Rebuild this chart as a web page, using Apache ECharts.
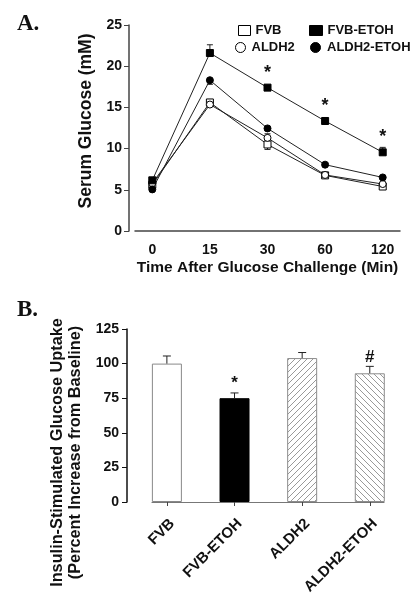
<!DOCTYPE html>
<html><head><meta charset="utf-8">
<script src="https://cdn.jsdelivr.net/npm/echarts@6/dist/echarts.min.js"></script>
<style>html,body{margin:0;padding:0;background:#fff}#c{width:420px;height:607px}</style>
</head><body><div id="c"></div>
<script>
// ---- Panel A data ----
const timeLabels = ['0', '15', '30', '60', '120'];
const fvb = [5.6, 15.6, 10.5, 6.75, 5.4];
const fvbEtoh = [6.15, 21.6, 17.4, 13.35, 9.55];
const aldh2 = [5.8, 15.35, 11.3, 6.8, 5.7];
const aldh2Etoh = [5.05, 18.3, 12.45, 8.05, 6.5];
const fvbErr = [0, 0.3, -0.6, 0, 0];
const fvbEtohErr = [0, 1.0, 0.2, 0.4, 0.6];
const aldh2Err = [0, 0, 0.5, 0, 0];
const aldh2EtohErr = [0, -0.5, 0, 0, 0];
const sigA = ['', '', '*', '*', '*'];
const yTicksA = [0, 5, 10, 15, 20, 25];

// ---- Panel B data ----
const groups = ['FVB', 'FVB-ETOH', 'ALDH2', 'ALDH2-ETOH'];
const uptake = [100, 75, 104, 93];
const uptakeErr = [5.5, 3.8, 4, 5];
const sigB = ['', '*', '', '#'];
const yTicksB = [0, 25, 50, 75, 100, 125];

const FONT = '"Liberation Sans", Arial, sans-serif';
const chart = echarts.init(document.getElementById('c'), null, {renderer: 'canvas'});

function hatch(dir) {
  const s = 6;
  const c = document.createElement('canvas'); c.width = s; c.height = s;
  const g = c.getContext('2d');
  g.fillStyle = '#fff'; g.fillRect(0, 0, s, s);
  g.strokeStyle = '#999'; g.lineWidth = 1;
  g.beginPath();
  if (dir > 0) {
    g.moveTo(-1, s + 1); g.lineTo(s + 1, -1);
    g.moveTo(-1, 1); g.lineTo(1, -1);
    g.moveTo(s - 1, s + 1); g.lineTo(s + 1, s - 1);
  } else {
    g.moveTo(-1, -1); g.lineTo(s + 1, s + 1);
    g.moveTo(-1, s - 1); g.lineTo(1, s + 1);
    g.moveTo(s - 1, -1); g.lineTo(s + 1, 1);
  }
  g.stroke();
  return c;
}

function errSeries(values, errs, sig, axisIdx, capHalf, sigMode) {
  return {
    type: 'custom', xAxisIndex: axisIdx, yAxisIndex: axisIdx, z: 1, clip: false,
    silent: true,
    data: values.map((v, i) => [i, v, errs[i]]),
    encode: {x: 0, y: 1},
    renderItem: function (params, api) {
      const x = api.value(0), v = api.value(1), e = api.value(2);
      const p0 = api.coord([x, v]);
      const p1 = api.coord([x, v + e]);
      const ch = [];
      const st = {stroke: '#222', lineWidth: 1};
      if (e) {
        ch.push({type: 'line', shape: {x1: p0[0], y1: p0[1], x2: p1[0], y2: p1[1]}, style: st});
        ch.push({type: 'line', shape: {x1: p1[0] - capHalf, y1: p1[1], x2: p1[0] + capHalf, y2: p1[1]}, style: st});
      }
      const s = sig[params.dataIndex];
      if (s) {
        let y;
        if (sigMode === 'point') y = p0[1] - 15;
        else y = Math.min(p0[1], p1[1]) - 1;
        ch.push({type: 'text', style: {
          text: s, x: p0[0], y: y, fill: '#111',
          font: 'bold ' + (sigMode === 'point' ? 18 : 17) + 'px ' + FONT,
          align: 'center', verticalAlign: sigMode === 'point' ? 'middle' : 'bottom'
        }});
      }
      return {type: 'group', children: ch};
    }
  };
}

const labelStyle = {fontFamily: FONT, fontWeight: 'bold', fontSize: 14, color: '#111'};

function lineSeries(name, data, symbol, filled) {
  return {
    name: name, type: 'line', xAxisIndex: 0, yAxisIndex: 0, z: 3,
    data: data.map((v, i) => [i, v]),
    symbol: symbol, symbolSize: 7, showSymbol: true,
    lineStyle: {color: '#222', width: 1},
    itemStyle: {color: filled ? '#000' : '#fff', borderColor: '#000', borderWidth: 1},
    emphasis: {disabled: true}
  };
}

const barColors = ['#fff', '#000', {image: hatch(1), repeat: 'repeat'}, {image: hatch(-1), repeat: 'repeat'}];
const barBorders = ['#888', '#000', '#8c8c8c', '#8c8c8c'];

function legendItem(name, icon, filled, left, top, w, h) {
  return {
    left: left, top: top, padding: 0, itemWidth: w, itemHeight: h,
    selectedMode: false,
    textStyle: {fontFamily: FONT, fontWeight: 'bold', fontSize: 13, color: '#111'},
    data: [{name: name, icon: icon, itemStyle: {color: filled ? '#000' : '#fff', borderColor: '#000', borderWidth: 1}}]
  };
}

chart.setOption({
  animation: false,
  backgroundColor: '#fff',
  title: [
    {text: 'A.', left: 17, top: 13, padding: 0, textStyle: {fontFamily: '"Liberation Serif", "Times New Roman", serif', fontWeight: 'bold', fontSize: 23, color: '#111'}},
    {text: 'B.', left: 17, top: 299, padding: 0, textStyle: {fontFamily: '"Liberation Serif", "Times New Roman", serif', fontWeight: 'bold', fontSize: 23, color: '#111'}}
  ],
  legend: [
    legendItem('FVB', 'rect', false, 238, 24, 12, 10),
    legendItem('FVB-ETOH', 'rect', true, 309, 24, 13, 10),
    legendItem('ALDH2', 'circle', false, 235, 41, 12, 10),
    legendItem('ALDH2-ETOH', 'circle', true, 310, 41, 13, 10)
  ],
  grid: [
    {left: 135, right: 20, top: 25, bottom: 376},
    {left: 152, right: 36, top: 329, bottom: 105}
  ],
  xAxis: [
    {
      gridIndex: 0, type: 'value', min: -0.3, max: 4.3,
      splitLine: {show: false},
      axisLine: {onZero: false, lineStyle: {color: '#444', width: 1.5}},
      axisTick: {show: false},
      axisLabel: Object.assign({}, labelStyle, {customValues: [0, 1, 2, 3, 4], margin: 12, formatter: v => timeLabels[Math.round(v)]}),
      name: 'Time After Glucose Challenge (Min)', nameLocation: 'middle', nameGap: 29,
      nameTextStyle: {fontFamily: FONT, fontWeight: 'bold', fontSize: 15.5, color: '#111'}
    },
    {
      gridIndex: 1, type: 'value', min: -0.22, max: 3.21,
      splitLine: {show: false},
      axisLine: {onZero: false, lineStyle: {color: '#777', width: 1.2}},
      axisTick: {show: true, customValues: [0, 1, 2, 3], length: 4, lineStyle: {color: '#444'}},
      axisLabel: Object.assign({}, labelStyle, {fontSize: 15, customValues: [0, 1, 2, 3], rotate: 45, margin: 14, verticalAlign: 'top', formatter: v => groups[Math.round(v)]})
    }
  ],
  yAxis: [
    {
      gridIndex: 0, type: 'value', min: yTicksA[0], max: yTicksA[yTicksA.length - 1], interval: yTicksA[1] - yTicksA[0],
      offset: 6, splitLine: {show: false},
      axisLine: {show: true, onZero: false, lineStyle: {color: '#444', width: 1.5}},
      axisTick: {show: true, length: 5, lineStyle: {color: '#444'}},
      axisLabel: Object.assign({}, labelStyle, {margin: 7}),
      name: 'Serum Glucose (mM)', nameLocation: 'middle', nameGap: 27, nameRotate: 90,
      nameTextStyle: {fontFamily: FONT, fontWeight: 'bold', fontSize: 17.5, color: '#111', padding: [0, 0, 0, 14]}
    },
    {
      gridIndex: 1, type: 'value', min: yTicksB[0], max: yTicksB[yTicksB.length - 1], interval: yTicksB[1] - yTicksB[0],
      offset: 25, splitLine: {show: false},
      axisLine: {show: true, onZero: false, lineStyle: {color: '#111', width: 1.5}},
      axisTick: {show: true, length: 5, lineStyle: {color: '#111'}},
      axisLabel: Object.assign({}, labelStyle, {margin: 8}),
      name: 'Insulin-Stimulated Glucose Uptake\n(Percent Increase from Baseline)', nameLocation: 'middle', nameGap: 35, nameRotate: 90,
      nameTextStyle: {fontFamily: FONT, fontWeight: 'bold', fontSize: 16.3, lineHeight: 18, color: '#111', padding: [0, 74, 0, 0]}
    }
  ],
  series: [
    errSeries(fvb, fvbErr, ['', '', '', '', ''], 0, 3, 'point'),
    errSeries(aldh2, aldh2Err, ['', '', '', '', ''], 0, 3, 'point'),
    errSeries(aldh2Etoh, aldh2EtohErr, ['', '', '', '', ''], 0, 3, 'point'),
    errSeries(fvbEtoh, fvbEtohErr, sigA, 0, 3, 'point'),
    lineSeries('FVB', fvb, 'rect', false),
    lineSeries('ALDH2', aldh2, 'circle', false),
    lineSeries('ALDH2-ETOH', aldh2Etoh, 'circle', true),
    lineSeries('FVB-ETOH', fvbEtoh, 'rect', true),
    {
      type: 'bar', xAxisIndex: 1, yAxisIndex: 1, barWidth: 30, z: 2,
      data: uptake.map((v, i) => ({value: [i, v], itemStyle: {color: barColors[i], borderColor: barBorders[i], borderWidth: 1}})),
      emphasis: {disabled: true}
    },
    Object.assign(errSeries(uptake, uptakeErr, sigB, 1, 4, 'cap'), {z: 3})
  ]
});
</script></body></html>
